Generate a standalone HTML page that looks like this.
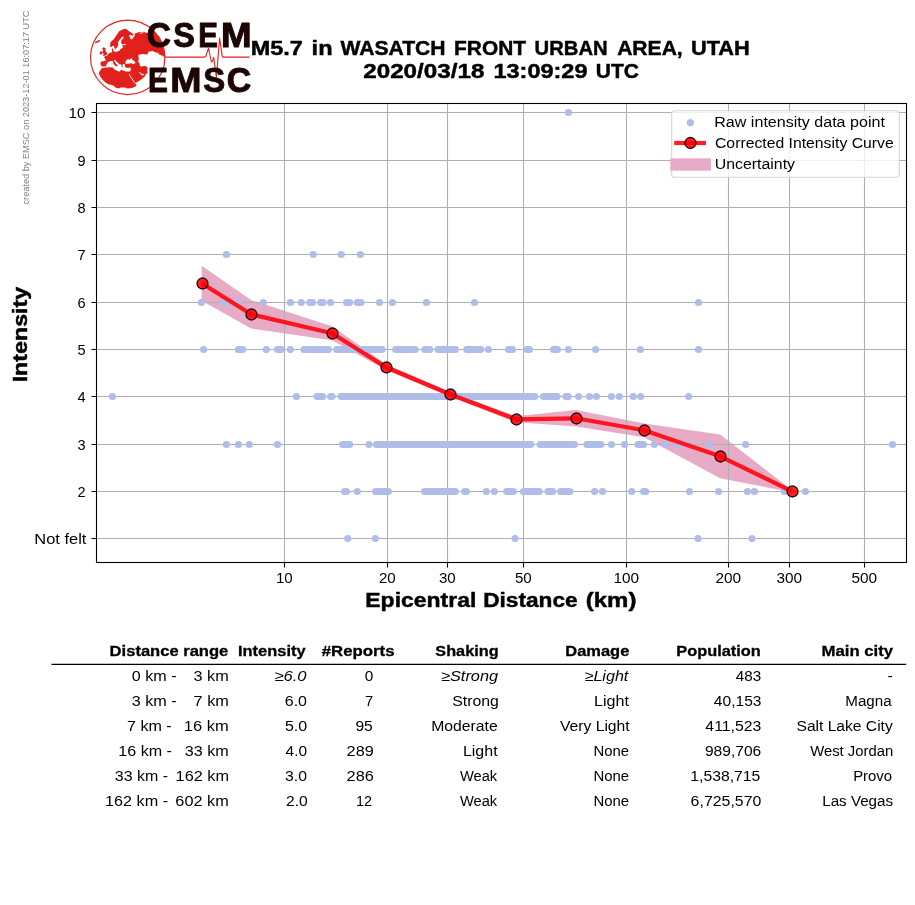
<!DOCTYPE html>
<html><head><meta charset="utf-8"><title>EMSC intensity vs distance</title>
<style>html,body{margin:0;padding:0;background:#fff;overflow:hidden}svg{display:block;will-change:transform}text{font-family:"Liberation Sans",sans-serif;fill:#000}.b{font-weight:bold}.i{font-style:italic}</style></head><body>
<svg width="915" height="905" viewBox="0 0 915 905">
<rect width="915" height="905" fill="#fff"/>
<polygon fill="#e8abc5" points="201.7,265.8 251.1,300.1 332.1,326.3 386.1,364.3 450.1,392.1 516.1,416.3 576.1,410.0 644.1,423.4 720.1,434.4 792.1,490.3 792.1,492.3 720.1,478.2 644.1,437.2 576.1,426.6 516.1,422.3 450.1,396.5 386.1,370.3 332.1,340.3 251.1,328.5 201.7,300.8"/>
<path d="M284.50,103.5V562.5M387.50,103.5V562.5M447.50,103.5V562.5M523.50,103.5V562.5M626.50,103.5V562.5M728.50,103.5V562.5M789.50,103.5V562.5M864.50,103.5V562.5M96.5,538.50H906.5M96.5,491.50H906.5M96.5,444.50H906.5M96.5,396.50H906.5M96.5,349.50H906.5M96.5,302.50H906.5M96.5,254.50H906.5M96.5,207.50H906.5M96.5,160.50H906.5M96.5,112.50H906.5" stroke="#b0b0b0" stroke-width="1.1" fill="none"/>
<g fill="#b0bde9"><circle cx="568.5" cy="112.50" r="3.6"/><circle cx="226.4" cy="254.50" r="3.6"/><circle cx="313.2" cy="254.50" r="3.6"/><circle cx="341.3" cy="254.50" r="3.6"/><circle cx="360.4" cy="254.50" r="3.6"/><circle cx="201.4" cy="302.50" r="3.6"/><circle cx="223.4" cy="302.50" r="3.6"/><circle cx="229.3" cy="302.50" r="3.6"/><circle cx="237.9" cy="302.50" r="3.6"/><circle cx="263.3" cy="302.50" r="3.6"/><circle cx="290.4" cy="302.50" r="3.6"/><circle cx="301.3" cy="302.50" r="3.6"/><circle cx="330.5" cy="302.50" r="3.6"/><circle cx="379.5" cy="302.50" r="3.6"/><circle cx="392.4" cy="302.50" r="3.6"/><circle cx="426.4" cy="302.50" r="3.6"/><circle cx="474.5" cy="302.50" r="3.6"/><circle cx="698.5" cy="302.50" r="3.6"/><circle cx="203.6" cy="349.50" r="3.6"/><circle cx="266.3" cy="349.50" r="3.6"/><circle cx="290.3" cy="349.50" r="3.6"/><circle cx="488.4" cy="349.50" r="3.6"/><circle cx="568.4" cy="349.50" r="3.6"/><circle cx="595.6" cy="349.50" r="3.6"/><circle cx="640.4" cy="349.50" r="3.6"/><circle cx="698.5" cy="349.50" r="3.6"/><circle cx="112.4" cy="396.50" r="3.6"/><circle cx="296.4" cy="396.50" r="3.6"/><circle cx="578.6" cy="396.50" r="3.6"/><circle cx="589.5" cy="396.50" r="3.6"/><circle cx="596.5" cy="396.50" r="3.6"/><circle cx="611.4" cy="396.50" r="3.6"/><circle cx="619.3" cy="396.50" r="3.6"/><circle cx="633.3" cy="396.50" r="3.6"/><circle cx="640.7" cy="396.50" r="3.6"/><circle cx="688.7" cy="396.50" r="3.6"/><circle cx="226.4" cy="444.50" r="3.6"/><circle cx="238.4" cy="444.50" r="3.6"/><circle cx="249.3" cy="444.50" r="3.6"/><circle cx="277.5" cy="444.50" r="3.6"/><circle cx="369.0" cy="444.50" r="3.6"/><circle cx="611.5" cy="444.50" r="3.6"/><circle cx="624.6" cy="444.50" r="3.6"/><circle cx="654.3" cy="444.50" r="3.6"/><circle cx="665.5" cy="444.50" r="3.6"/><circle cx="677.7" cy="444.50" r="3.6"/><circle cx="690.2" cy="444.50" r="3.6"/><circle cx="708.8" cy="444.50" r="3.6"/><circle cx="745.6" cy="444.50" r="3.6"/><circle cx="892.5" cy="444.50" r="3.6"/><circle cx="357.3" cy="491.50" r="3.6"/><circle cx="486.3" cy="491.50" r="3.6"/><circle cx="494.4" cy="491.50" r="3.6"/><circle cx="594.6" cy="491.50" r="3.6"/><circle cx="602.5" cy="491.50" r="3.6"/><circle cx="631.7" cy="491.50" r="3.6"/><circle cx="689.5" cy="491.50" r="3.6"/><circle cx="718.6" cy="491.50" r="3.6"/><circle cx="747.4" cy="491.50" r="3.6"/><circle cx="754.4" cy="491.50" r="3.6"/><circle cx="784.2" cy="491.50" r="3.6"/><circle cx="805.4" cy="491.50" r="3.6"/><circle cx="347.7" cy="538.50" r="3.6"/><circle cx="375.3" cy="538.50" r="3.6"/><circle cx="515.0" cy="538.50" r="3.6"/><circle cx="698.0" cy="538.50" r="3.6"/><circle cx="752.0" cy="538.50" r="3.6"/></g>
<path d="M309.8,302.50H312.5M320.8,302.50H323.0M346.6,302.50H349.6M357.3,302.50H361.0M238.4,349.50H242.6M277.5,349.50H281.2M304.0,349.50H328.4M336.7,349.50H382.0M395.7,349.50H415.2M424.8,349.50H429.8M438.0,349.50H455.4M466.8,349.50H480.7M508.6,349.50H512.4M526.8,349.50H529.4M553.6,349.50H557.4M317.0,396.50H322.5M330.6,396.50H332.1M341.1,396.50H534.8M543.5,396.50H557.1M566.0,396.50H568.2M342.6,444.50H349.6M376.4,444.50H530.8M540.2,444.50H574.5M586.9,444.50H600.9M638.1,444.50H643.5M344.5,491.50H346.5M375.6,491.50H388.3M424.7,491.50H455.4M464.7,491.50H466.3M506.7,491.50H513.3M523.4,491.50H539.2M547.9,491.50H552.7M560.6,491.50H569.8M643.6,491.50H645.6" stroke="#b0bde9" stroke-width="7.2" stroke-linecap="round" fill="none"/>
<polyline fill="none" stroke="#ff0008" stroke-opacity="0.88" stroke-width="4.2" stroke-linejoin="round" points="201.7,283.3 251.1,314.3 332.1,333.3 386.1,367.3 450.1,394.3 516.1,419.3 576.1,418.3 644.1,430.3 720.1,456.3 792.1,491.3"/>
<g fill="#ff0008" fill-opacity="0.88" stroke="#000" stroke-opacity="0.88" stroke-width="1.3"><circle cx="202.5" cy="283.5" r="5.5"/><circle cx="251.5" cy="314.5" r="5.5"/><circle cx="332.5" cy="333.5" r="5.5"/><circle cx="386.5" cy="367.5" r="5.5"/><circle cx="450.5" cy="394.5" r="5.5"/><circle cx="516.5" cy="419.5" r="5.5"/><circle cx="576.5" cy="418.5" r="5.5"/><circle cx="644.5" cy="430.5" r="5.5"/><circle cx="720.5" cy="456.5" r="5.5"/><circle cx="792.5" cy="491.5" r="5.5"/></g>
<rect x="96.5" y="103.5" width="810.0" height="459.0" fill="none" stroke="#000" stroke-width="1.1"/>
<path d="M284.50,562.5v5M387.50,562.5v5M447.50,562.5v5M523.50,562.5v5M626.50,562.5v5M728.50,562.5v5M789.50,562.5v5M864.50,562.5v5M96.5,538.50h-5M96.5,491.50h-5M96.5,444.50h-5M96.5,396.50h-5M96.5,349.50h-5M96.5,302.50h-5M96.5,254.50h-5M96.5,207.50h-5M96.5,160.50h-5M96.5,112.50h-5" stroke="#000" stroke-width="1.1" fill="none"/>
<text x="284.3" y="583.2" font-size="14.40" text-anchor="middle" textLength="16.8" lengthAdjust="spacingAndGlyphs">10</text>
<text x="387.3" y="583.2" font-size="14.40" text-anchor="middle" textLength="16.8" lengthAdjust="spacingAndGlyphs">20</text>
<text x="447.3" y="583.2" font-size="14.40" text-anchor="middle" textLength="16.8" lengthAdjust="spacingAndGlyphs">30</text>
<text x="523.3" y="583.2" font-size="14.40" text-anchor="middle" textLength="16.8" lengthAdjust="spacingAndGlyphs">50</text>
<text x="626.3" y="583.2" font-size="14.40" text-anchor="middle" textLength="25.6" lengthAdjust="spacingAndGlyphs">100</text>
<text x="728.3" y="583.2" font-size="14.40" text-anchor="middle" textLength="25.6" lengthAdjust="spacingAndGlyphs">200</text>
<text x="789.3" y="583.2" font-size="14.40" text-anchor="middle" textLength="25.6" lengthAdjust="spacingAndGlyphs">300</text>
<text x="864.3" y="583.2" font-size="14.40" text-anchor="middle" textLength="25.6" lengthAdjust="spacingAndGlyphs">500</text>
<text x="85.5" y="496.7" font-size="14.40" text-anchor="end" textLength="8.1" lengthAdjust="spacingAndGlyphs">2</text>
<text x="85.5" y="449.7" font-size="14.40" text-anchor="end" textLength="8.1" lengthAdjust="spacingAndGlyphs">3</text>
<text x="85.5" y="401.7" font-size="14.40" text-anchor="end" textLength="8.1" lengthAdjust="spacingAndGlyphs">4</text>
<text x="85.5" y="354.7" font-size="14.40" text-anchor="end" textLength="8.1" lengthAdjust="spacingAndGlyphs">5</text>
<text x="85.5" y="307.7" font-size="14.40" text-anchor="end" textLength="8.1" lengthAdjust="spacingAndGlyphs">6</text>
<text x="85.5" y="259.7" font-size="14.40" text-anchor="end" textLength="8.1" lengthAdjust="spacingAndGlyphs">7</text>
<text x="85.5" y="212.7" font-size="14.40" text-anchor="end" textLength="8.1" lengthAdjust="spacingAndGlyphs">8</text>
<text x="85.5" y="165.7" font-size="14.40" text-anchor="end" textLength="8.1" lengthAdjust="spacingAndGlyphs">9</text>
<text x="85.5" y="117.7" font-size="14.40" text-anchor="end" textLength="17.0" lengthAdjust="spacingAndGlyphs">10</text>
<text transform="translate(26.6,334.6) rotate(-90)" text-anchor="middle" class="b" font-size="20.3" style="stroke:#000;stroke-width:0.45px" textLength="95.5" lengthAdjust="spacingAndGlyphs">Intensity</text>
<text transform="translate(29.3,107.5) rotate(-90)" text-anchor="middle" font-size="8.8" style="fill:#808080" textLength="194" lengthAdjust="spacingAndGlyphs">created by EMSC on 2023-12-01 16:07:17 UTC</text>
<rect x="671.7" y="110.7" width="227.6" height="66.6" rx="2.8" fill="#fff" fill-opacity="0.8" stroke="#ccc" stroke-opacity="0.8" stroke-width="1.1"/>
<circle cx="690.4" cy="122.6" r="3.6" fill="#b0bde9"/>
<path d="M674.2,143H706" stroke="#ff0008" stroke-opacity="0.88" stroke-width="4.2"/>
<circle cx="690.4" cy="143" r="5.5" fill="#ff0008" fill-opacity="0.88" stroke="#000" stroke-opacity="0.88" stroke-width="1.3"/>
<rect x="670.3" y="158.3" width="40.6" height="12.4" fill="#e8abc5"/>
<path d="M51.5,664.4H906.2" stroke="#000" stroke-width="1.2"/>
<text x="250.70" y="55.0" font-size="20.30" class="b" style="stroke:#000;stroke-width:0.45px" textLength="52.17" lengthAdjust="spacingAndGlyphs">M5.7</text>
<text x="311.62" y="55.0" font-size="20.30" class="b" style="stroke:#000;stroke-width:0.45px" textLength="20.95" lengthAdjust="spacingAndGlyphs">in</text>
<text x="340.48" y="55.0" font-size="20.30" class="b" style="stroke:#000;stroke-width:0.45px" textLength="105.15" lengthAdjust="spacingAndGlyphs">WASATCH</text>
<text x="454.13" y="55.0" font-size="20.30" class="b" style="stroke:#000;stroke-width:0.45px" textLength="71.81" lengthAdjust="spacingAndGlyphs">FRONT</text>
<text x="534.55" y="55.0" font-size="20.30" class="b" style="stroke:#000;stroke-width:0.45px" textLength="73.09" lengthAdjust="spacingAndGlyphs">URBAN</text>
<text x="617.15" y="55.0" font-size="20.30" class="b" style="stroke:#000;stroke-width:0.45px" textLength="65.59" lengthAdjust="spacingAndGlyphs">AREA,</text>
<text x="690.95" y="55.0" font-size="20.30" class="b" style="stroke:#000;stroke-width:0.45px" textLength="58.90" lengthAdjust="spacingAndGlyphs">UTAH</text>
<text x="363.24" y="78.0" font-size="20.30" class="b" style="stroke:#000;stroke-width:0.45px" textLength="121.14" lengthAdjust="spacingAndGlyphs">2020/03/18</text>
<text x="493.42" y="78.0" font-size="20.30" class="b" style="stroke:#000;stroke-width:0.45px" textLength="94.12" lengthAdjust="spacingAndGlyphs">13:09:29</text>
<text x="595.88" y="78.0" font-size="20.30" class="b" style="stroke:#000;stroke-width:0.45px" textLength="43.15" lengthAdjust="spacingAndGlyphs">UTC</text>
<text x="365.27" y="607.0" font-size="20.30" class="b" style="stroke:#000;stroke-width:0.45px" textLength="111.11" lengthAdjust="spacingAndGlyphs">Epicentral</text>
<text x="483.20" y="607.0" font-size="20.30" class="b" style="stroke:#000;stroke-width:0.45px" textLength="94.50" lengthAdjust="spacingAndGlyphs">Distance</text>
<text x="585.80" y="607.0" font-size="20.30" class="b" style="stroke:#000;stroke-width:0.45px" textLength="50.59" lengthAdjust="spacingAndGlyphs">(km)</text>
<text x="714.28" y="126.9" font-size="14.70" textLength="170.61" lengthAdjust="spacingAndGlyphs">Raw intensity data point</text>
<text x="714.99" y="147.8" font-size="14.70" textLength="178.71" lengthAdjust="spacingAndGlyphs">Corrected Intensity Curve</text>
<text x="714.67" y="168.7" font-size="14.70" textLength="80.38" lengthAdjust="spacingAndGlyphs">Uncertainty</text>
<text x="34.35" y="544.0" font-size="14.70" textLength="52.10" lengthAdjust="spacingAndGlyphs">Not felt</text>
<text x="109.63" y="656.0" font-size="14.50" class="b" style="stroke:#000;stroke-width:0.3px" textLength="118.68" lengthAdjust="spacingAndGlyphs">Distance range</text>
<text x="237.99" y="656.0" font-size="14.50" class="b" style="stroke:#000;stroke-width:0.3px" textLength="67.68" lengthAdjust="spacingAndGlyphs">Intensity</text>
<text x="321.76" y="656.0" font-size="14.50" class="b" style="stroke:#000;stroke-width:0.3px" textLength="72.78" lengthAdjust="spacingAndGlyphs">#Reports</text>
<text x="435.36" y="656.0" font-size="14.50" class="b" style="stroke:#000;stroke-width:0.3px" textLength="63.20" lengthAdjust="spacingAndGlyphs">Shaking</text>
<text x="565.31" y="656.0" font-size="14.50" class="b" style="stroke:#000;stroke-width:0.3px" textLength="63.99" lengthAdjust="spacingAndGlyphs">Damage</text>
<text x="676.39" y="656.0" font-size="14.50" class="b" style="stroke:#000;stroke-width:0.3px" textLength="84.37" lengthAdjust="spacingAndGlyphs">Population</text>
<text x="821.58" y="656.0" font-size="14.50" class="b" style="stroke:#000;stroke-width:0.3px" textLength="71.53" lengthAdjust="spacingAndGlyphs">Main city</text>
<text x="131.85" y="681.0" font-size="14.70" textLength="44.81" lengthAdjust="spacingAndGlyphs">0 km -</text>
<text x="193.49" y="681.0" font-size="14.70" textLength="35.26" lengthAdjust="spacingAndGlyphs">3 km</text>
<text x="274.43" y="681.0" font-size="14.70" class="i" textLength="32.14" lengthAdjust="spacingAndGlyphs">≥6.0</text>
<text x="364.85" y="681.0" font-size="14.70" textLength="8.60" lengthAdjust="spacingAndGlyphs">0</text>
<text x="441.03" y="681.0" font-size="14.70" class="i" textLength="57.10" lengthAdjust="spacingAndGlyphs">≥Strong</text>
<text x="584.54" y="681.0" font-size="14.70" class="i" textLength="43.81" lengthAdjust="spacingAndGlyphs">≥Light</text>
<text x="735.88" y="681.0" font-size="14.70" textLength="25.43" lengthAdjust="spacingAndGlyphs">483</text>
<text x="887.56" y="681.0" font-size="14.70" textLength="5.30" lengthAdjust="spacingAndGlyphs">-</text>
<text x="131.75" y="705.9" font-size="14.70" textLength="45.01" lengthAdjust="spacingAndGlyphs">3 km -</text>
<text x="193.55" y="705.9" font-size="14.70" textLength="35.35" lengthAdjust="spacingAndGlyphs">7 km</text>
<text x="284.78" y="705.9" font-size="14.70" textLength="22.23" lengthAdjust="spacingAndGlyphs">6.0</text>
<text x="365.00" y="705.9" font-size="14.70" textLength="8.20" lengthAdjust="spacingAndGlyphs">7</text>
<text x="452.24" y="705.9" font-size="14.70" textLength="46.61" lengthAdjust="spacingAndGlyphs">Strong</text>
<text x="594.04" y="705.9" font-size="14.70" textLength="35.00" lengthAdjust="spacingAndGlyphs">Light</text>
<text x="713.84" y="705.9" font-size="14.70" textLength="47.63" lengthAdjust="spacingAndGlyphs">40,153</text>
<text x="845.27" y="705.9" font-size="14.70" textLength="46.35" lengthAdjust="spacingAndGlyphs">Magna</text>
<text x="126.95" y="730.9" font-size="14.70" textLength="44.81" lengthAdjust="spacingAndGlyphs">7 km -</text>
<text x="183.87" y="730.9" font-size="14.70" textLength="44.90" lengthAdjust="spacingAndGlyphs">16 km</text>
<text x="284.94" y="730.9" font-size="14.70" textLength="22.27" lengthAdjust="spacingAndGlyphs">5.0</text>
<text x="355.45" y="730.9" font-size="14.70" textLength="17.37" lengthAdjust="spacingAndGlyphs">95</text>
<text x="431.22" y="730.9" font-size="14.70" textLength="66.47" lengthAdjust="spacingAndGlyphs">Moderate</text>
<text x="559.98" y="730.9" font-size="14.70" textLength="69.69" lengthAdjust="spacingAndGlyphs">Very Light</text>
<text x="705.39" y="730.9" font-size="14.70" textLength="55.95" lengthAdjust="spacingAndGlyphs">411,523</text>
<text x="796.48" y="730.9" font-size="14.70" textLength="96.28" lengthAdjust="spacingAndGlyphs">Salt Lake City</text>
<text x="118.31" y="755.9" font-size="14.70" textLength="53.63" lengthAdjust="spacingAndGlyphs">16 km -</text>
<text x="184.87" y="755.9" font-size="14.70" textLength="43.95" lengthAdjust="spacingAndGlyphs">33 km</text>
<text x="285.54" y="755.9" font-size="14.70" textLength="21.53" lengthAdjust="spacingAndGlyphs">4.0</text>
<text x="346.59" y="755.9" font-size="14.70" textLength="27.17" lengthAdjust="spacingAndGlyphs">289</text>
<text x="462.94" y="755.9" font-size="14.70" textLength="34.64" lengthAdjust="spacingAndGlyphs">Light</text>
<text x="593.48" y="755.9" font-size="14.70" textLength="35.65" lengthAdjust="spacingAndGlyphs">None</text>
<text x="704.96" y="755.9" font-size="14.70" textLength="56.32" lengthAdjust="spacingAndGlyphs">989,706</text>
<text x="810.17" y="755.9" font-size="14.70" textLength="83.12" lengthAdjust="spacingAndGlyphs">West Jordan</text>
<text x="114.76" y="780.8" font-size="14.70" textLength="53.25" lengthAdjust="spacingAndGlyphs">33 km -</text>
<text x="175.60" y="780.8" font-size="14.70" textLength="53.34" lengthAdjust="spacingAndGlyphs">162 km</text>
<text x="285.08" y="780.8" font-size="14.70" textLength="21.90" lengthAdjust="spacingAndGlyphs">3.0</text>
<text x="346.61" y="780.8" font-size="14.70" textLength="27.23" lengthAdjust="spacingAndGlyphs">286</text>
<text x="459.96" y="780.8" font-size="14.70" textLength="37.21" lengthAdjust="spacingAndGlyphs">Weak</text>
<text x="593.48" y="780.8" font-size="14.70" textLength="35.65" lengthAdjust="spacingAndGlyphs">None</text>
<text x="690.25" y="780.8" font-size="14.70" textLength="70.13" lengthAdjust="spacingAndGlyphs">1,538,715</text>
<text x="853.15" y="780.8" font-size="14.70" textLength="39.01" lengthAdjust="spacingAndGlyphs">Provo</text>
<text x="105.05" y="805.7" font-size="14.70" textLength="63.02" lengthAdjust="spacingAndGlyphs">162 km -</text>
<text x="175.34" y="805.7" font-size="14.70" textLength="53.36" lengthAdjust="spacingAndGlyphs">602 km</text>
<text x="285.97" y="805.7" font-size="14.70" textLength="21.76" lengthAdjust="spacingAndGlyphs">2.0</text>
<text x="356.04" y="805.7" font-size="14.70" textLength="16.02" lengthAdjust="spacingAndGlyphs">12</text>
<text x="459.96" y="805.7" font-size="14.70" textLength="37.21" lengthAdjust="spacingAndGlyphs">Weak</text>
<text x="593.48" y="805.7" font-size="14.70" textLength="35.65" lengthAdjust="spacingAndGlyphs">None</text>
<text x="690.64" y="805.7" font-size="14.70" textLength="70.72" lengthAdjust="spacingAndGlyphs">6,725,570</text>
<text x="822.26" y="805.7" font-size="14.70" textLength="70.83" lengthAdjust="spacingAndGlyphs">Las Vegas</text>
<g id="logo">
<polygon fill="#e2211c" points="123.0,29.3 125.7,28.8 127.0,29.6 129.0,31.2 131.9,32.9 133.7,34.5 133.2,35.6 130.9,35.2 129.0,34.9 129.7,37.1 130.9,39.4 132.2,39.1 133.2,38.1 133.9,36.5 134.6,35.8 134.9,33.6 138.6,32.2 139.9,33.9 142.0,33.3 145.0,32.8 138.3,31.9 139.5,33.5 143.2,32.5 143.9,31.4 146.0,33.0 148.2,32.4 151.5,31.8 153.8,31.1 155.2,32.6 156.6,34.2 157.8,35.8 159.0,37.6 160.0,39.3 161.0,41.2 161.8,43.1 162.6,45.0 163.2,47.0 163.7,49.0 164.2,51.0 164.5,53.1 164.6,55.1 164.7,57.2 162.6,55.8 159.5,54.7 158.1,52.9 155.1,52.3 152.6,51.0 148.5,51.8 147.4,54.6 141.6,54.0 138.3,55.1 138.8,59.2 138.1,61.4 139.6,63.6 139.9,65.8 141.6,66.8 143.8,65.8 146.5,66.6 147.8,68.6 147.1,70.8 147.8,73.0 145.6,74.2 145.0,76.3 143.2,78.0 139.4,80.7 136.0,82.7 134.9,83.5 136.7,85.1 135.5,86.4 133.3,87.4 130.5,88.2 127.8,88.6 125.0,87.6 121.0,87.4 118.2,88.6 115.4,87.5 113.8,85.8 111.0,84.7 108.3,84.2 105.5,82.5 102.7,79.7 100.5,77.0 98.8,73.5 99.9,70.8 101.6,68.6 103.8,67.5 102.2,66.5 100.7,65.3 100.5,63.0 101.0,61.5 103.3,61.3 105.5,60.7 105.6,59.0 103.8,57.4 104.9,56.3 106.9,55.7 108.3,54.0 109.0,53.5 110.3,52.6 112.4,52.3 112.0,50.9 111.7,49.0 112.2,48.2 113.0,49.0 113.5,50.9 114.5,51.6 115.8,51.9 118.5,51.0 120.1,50.3 120.5,49.0 122.1,48.3 123.0,47.3 122.4,45.7 123.0,45.0 125.3,45.2 126.1,44.6 125.3,43.8 122.1,44.4 121.1,43.0 121.4,40.4 122.7,38.8 123.9,37.5 123.0,36.8 121.7,37.1 120.8,38.5 118.8,40.8 118.0,42.7 118.5,44.4 118.0,45.4 117.1,47.3 115.8,49.0 114.7,48.4 113.9,45.7 112.6,46.1 111.6,47.0 110.4,47.0 110.1,44.4 110.6,42.1 113.5,39.4 115.5,36.8 117.1,34.2 119.1,31.2"/>
<polygon fill="#e2211c" points="103.7,47.3 105.6,48.4 105.3,50.6 106.5,52.3 107.4,54.2 105.6,55.5 102.7,56.0 103.7,54.2 102.7,52.5 103.1,50.3 102.2,48.5"/>
<polygon fill="#e2211c" points="100.2,51.7 102.3,51.0 102.7,52.9 101.2,54.7 99.6,53.9"/>
<path d="M95.7,42.6L99.5,40.8" stroke="#e2211c" stroke-width="1.6" stroke-linecap="round"/>
<polygon fill="#fff" points="102.3,66.8 105.9,66.3 106.5,64.5 107.3,62.9 108.6,61.8 111.4,60.9 113.2,61.3 113.0,62.5 113.7,63.9 114.9,65.4 115.9,66.3 117.1,66.3 117.7,65.4 116.5,64.3 115.3,62.7 114.3,61.1 113.9,59.9 114.7,59.7 116.5,61.5 118.5,63.3 119.5,64.5 120.0,63.9 121.0,64.5 121.6,66.2 122.0,67.6 122.6,67.4 122.4,65.4 122.8,64.1 124.4,63.9 125.0,65.4 124.8,67.2 126.3,67.6 127.9,68.0 130.3,67.4 130.8,68.6 130.6,71.0 129.5,71.6 125.6,71.4 121.6,69.9 120.4,70.6 119.3,71.8 116.5,70.6 113.7,69.1 113.0,67.5 109.8,67.2 105.9,67.4 102.3,67.9"/>
<polygon fill="#e2211c" fill-opacity="0.35" points="111.4,62.5 112.5,62.3 112.6,64.5 111.6,64.7"/>
<polygon fill="#fff" points="125.2,62.5 126.3,60.3 127.9,59.1 129.5,59.9 130.7,58.6 132.3,58.2 131.9,59.7 134.0,60.7 135.0,61.9 135.4,63.3 133.4,63.9 130.7,63.3 127.9,63.7 125.6,63.7"/>
<polygon fill="#fff" points="138.8,72.2 140.5,74.1 142.1,75.5 144.1,74.9 143.5,74.1 141.6,73.8 139.9,72.2"/>
<path d="M129.0,74.0L134.7,83.0" stroke="#fff" stroke-width="0.9"/>
<circle cx="127.70" cy="57.35" r="37.20" fill="none" stroke="#e2211c" stroke-width="1.15"/>
<path d="M164.9,57.1H204.6L205.8,56.3L208.5,48.4L211.4,62L212.3,61.4L213.7,57.4L216.4,77.5L219.6,38L222.2,56.2L222.9,57.1H249.6" fill="none" stroke="#e2211c" stroke-width="1.1" stroke-linejoin="round"/>
<text x="146.85" y="46.8" font-size="34.90" class="b" style="fill:#1c0505;stroke:#1c0505;stroke-width:1px;stroke-linejoin:round" textLength="24.20" lengthAdjust="spacingAndGlyphs">C</text>
<text x="173.26" y="46.8" font-size="34.90" class="b" style="fill:#1c0505;stroke:#1c0505;stroke-width:1px;stroke-linejoin:round" textLength="21.61" lengthAdjust="spacingAndGlyphs">S</text>
<text x="198.16" y="46.8" font-size="34.90" class="b" style="fill:#1c0505;stroke:#1c0505;stroke-width:1px;stroke-linejoin:round" textLength="19.70" lengthAdjust="spacingAndGlyphs">E</text>
<text x="221.04" y="46.8" font-size="34.90" class="b" style="fill:#1c0505;stroke:#1c0505;stroke-width:1px;stroke-linejoin:round" textLength="30.61" lengthAdjust="spacingAndGlyphs">M</text>
<text x="148.12" y="92.1" font-size="34.90" class="b" style="fill:#1c0505;stroke:#1c0505;stroke-width:1px;stroke-linejoin:round" textLength="19.94" lengthAdjust="spacingAndGlyphs">E</text>
<text x="170.31" y="92.1" font-size="34.90" class="b" style="fill:#1c0505;stroke:#1c0505;stroke-width:1px;stroke-linejoin:round" textLength="31.26" lengthAdjust="spacingAndGlyphs">M</text>
<text x="203.19" y="92.1" font-size="34.90" class="b" style="fill:#1c0505;stroke:#1c0505;stroke-width:1px;stroke-linejoin:round" textLength="21.92" lengthAdjust="spacingAndGlyphs">S</text>
<text x="226.85" y="92.1" font-size="34.90" class="b" style="fill:#1c0505;stroke:#1c0505;stroke-width:1px;stroke-linejoin:round" textLength="24.44" lengthAdjust="spacingAndGlyphs">C</text>
</g>
</svg></body></html>
